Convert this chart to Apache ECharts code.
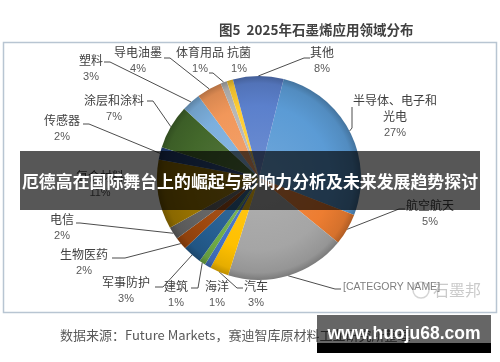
<!DOCTYPE html>
<html><head><meta charset="utf-8">
<script src="https://cdn.jsdelivr.net/npm/echarts@6/dist/echarts.min.js"></script>
<style>html,body{margin:0;padding:0;background:#fff}#c{width:500px;height:362px}</style>
</head><body><div id="c"></div>
<script>
// ---- data ----
const categories = ['半导体、电子和\n光电','航空航天','[CATEGORY NAME]','汽车','海洋','建筑','军事防护','生物医药','电信','复合材料','传感器','涂层和涂料','塑料','导电油墨','体育用品','抗菌','其他'];
const shares = [27,5,19,3,1,1,3,2,2,11,2,7,3,4,1,1,8];
const showPercent = [true,true,false,true,true,true,true,true,true,true,true,true,true,true,true,true,true];
const titleText = '图5  2025年石墨烯应用领域分布';
const sourceText = '数据来源：Future Markets，赛迪智库原材料工业研究所整理';
const bannerText = '厄德高在国际舞台上的崛起与影响力分析及未来发展趋势探讨';

// ---- styles / layout ----
const colors = ['#5B9BD5','#ED7D31','#A5A5A5','#FFC000','#4472C4','#70AD47','#255E91','#9E480E','#636363','#997300','#264478','#43682B','#7CAFDD','#F1975A','#B7B7B7','#FFCD33','#5B80CC'];
const PIE_CX = 259, PIE_CY = 178, PIE_R = 102;
const LH = 16.5;
const labelSpots = [
 {x:395, y:100, line:[[352,128],[352,107]]},
 {x:430, y:205, line:[[399,209],[405,209]]},
 {x:343, y:287, align:'left', line:[[335,289],[341,289]]},
 {x:256, y:286, line:[[237,288],[243,288]]},
 {x:217, y:286},
 {x:176, y:286, line:[[198,288],[191,288]]},
 {x:126, y:282, line:[[163,287],[155,287]]},
 {x:84,  y:254, line:[[125,258],[112,258]]},
 {x:62,  y:219, line:[[80,223],[76,223]]},
 {x:100, y:176},
 {x:62,  y:120, line:[[89,124],[83,124]]},
 {x:114, y:100, line:[[153,101],[147,101]]},
 {x:91,  y:60,  line:[[110,62],[104,62]]},
 {x:138, y:52,  line:[[170,58],[164,58]]},
 {x:200, y:52,  line:[[213,73],[209,73]]},
 {x:239, y:52},
 {x:322, y:52,  line:[[304,58],[310,58]]}
];

function shade(hex, f) {
  const n = parseInt(hex.slice(1), 16);
  let c = [n >> 16, (n >> 8) & 255, n & 255];
  c = c.map(v => f >= 0 ? v + (255 - v) * f : v * (1 + f));
  return 'rgb(' + c.map(v => Math.round(v)).join(',') + ')';
}
function grad(c) {
  return {type:'radial', x:PIE_CX, y:PIE_CY, r:PIE_R + 1, global:true,
    colorStops:[{offset:0,color:shade(c,0.12)},{offset:0.7,color:c},{offset:0.92,color:shade(c,-0.1)},{offset:1,color:shade(c,-0.28)}]};
}

const pieData = categories.map((name, i) => ({
  name, value: shares[i],
  itemStyle: {color: grad(colors[i])},
  labelLine: {show: !!labelSpots[i].line}
}));

const FONT = '"Noto Sans CJK SC", "Microsoft YaHei", sans-serif';
const LATIN = '"Liberation Sans", Arial, sans-serif';
const chart = echarts.init(document.getElementById('c'), null, {renderer:'canvas'});
chart.setOption({
  backgroundColor: '#fff',
  animation: false,
  series: [{
    type: 'pie',
    center: [PIE_CX, PIE_CY],
    radius: [0, PIE_R],
    startAngle: 76,
    clockwise: true,
    avoidLabelOverlap: false,
    data: pieData,
    itemStyle: {borderWidth: 0},
    label: {
      show: true,
      position: 'outside',
      fontFamily: FONT,
      formatter: p => {
        const i = p.dataIndex;
        if (!showPercent[i]) return '{c|' + p.name + '}';
        const lines = p.name.split('\n').map(s => '{n|' + s + '}');
        return lines.join('\n') + '\n{p|' + shares[i] + '%}';
      },
      rich: {
        n: {fontSize: 12, color: '#404040', fontFamily: FONT, lineHeight: LH, align: 'center'},
        p: {fontSize: 11, color: '#595959', fontFamily: LATIN, lineHeight: LH, align: 'center'},
        c: {fontSize: 10.5, color: '#7f7f7f', fontFamily: LATIN, lineHeight: LH}
      }
    },
    labelLine: {show: true, lineStyle: {color: '#4d4d4d', width: 1}},
    labelLayout: function (params) {
      const s = labelSpots[params.dataIndex];
      const out = {
        x: s.x, y: s.y - LH / 2,
        align: s.align || 'center', verticalAlign: 'top'
      };
      if (s.line && params.labelLinePoints) {
        out.labelLinePoints = [params.labelLinePoints[0]].concat(s.line);
      }
      return out;
    }
  }],
  graphic: [
    {type:'rect', silent:true, z:-10, shape:{x:3.5, y:42.5, width:493, height:270}, style:{fill:'none', stroke:'#b8c5d2', lineWidth:1.5}},
    {type:'text', silent:true, x:219, y:30, style:{text:titleText, fontSize:13.5, fontWeight:'bold', fontFamily:FONT, fill:'#404040', verticalAlign:'middle'}},
    {type:'text', silent:true, x:60, y:335, style:{text:sourceText, fontSize:13, fontFamily:FONT, fill:'#595959', verticalAlign:'middle'}},
    {type:'circle', silent:true, shape:{cx:421, cy:290, r:8}, style:{fill:'none', stroke:'rgba(160,160,160,0.45)', lineWidth:1.5}},
    {type:'text', silent:true, x:433, y:290, style:{text:'石墨邦', fontSize:16, fontFamily:FONT, fill:'rgba(150,150,150,0.5)', verticalAlign:'middle'}},
    {type:'rect', silent:true, z:100, shape:{x:20, y:151, width:460, height:59}, style:{fill:'rgba(0,0,0,0.66)'}},
    {type:'text', silent:true, z:101, x:250, y:182, style:{text:bannerText, fontSize:16.9, fontWeight:'bold', fontFamily:FONT, fill:'#fff', align:'center', verticalAlign:'middle'}},
    {type:'rect', silent:true, z:100, shape:{x:317, y:315, width:174, height:28}, style:{fill:'rgba(0,0,0,0.6)'}},
    {type:'rect', silent:true, z:100, shape:{x:317, y:343, width:174, height:10}, style:{fill:'#000'}},
    {type:'text', silent:true, z:101, x:404, y:334, style:{text:'www.huoju68.com', fontSize:17.5, fontWeight:'bold', fontFamily:LATIN, fill:'#fff', align:'center', verticalAlign:'middle'}}
  ]
});
</script>
</body></html>
